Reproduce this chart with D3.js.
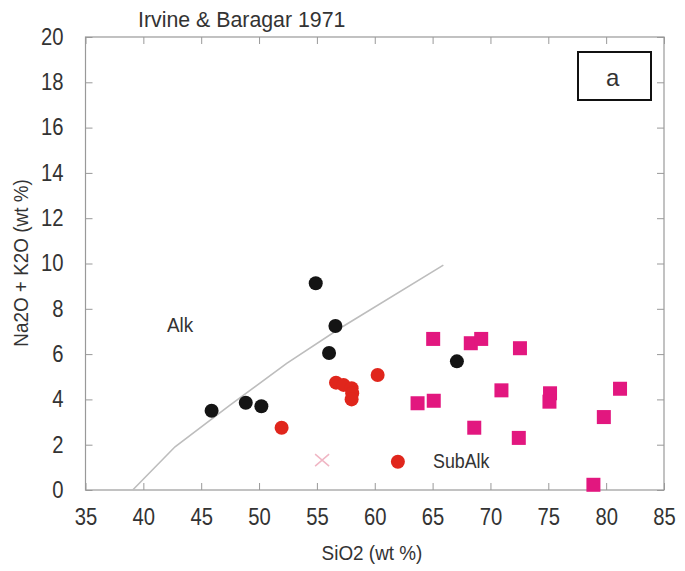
<!DOCTYPE html>
<html>
<head>
<meta charset="utf-8">
<script src="https://cdn.jsdelivr.net/npm/d3@7"></script>
<style>
    body { margin: 0; background: #fff; }
    svg { display: block; }
    text { font-family: 'Liberation Sans', Arial, sans-serif; fill: #333; }
</style>
</head>
<body>
<svg id="chart" width="685" height="571"></svg>
<script>
//----------DATA----------

var xTicks = [35, 40, 45, 50, 55, 60, 65, 70, 75, 80, 85];
var yTicks = [0, 2, 4, 6, 8, 10, 12, 14, 16, 18, 20];

// black dots
var blackSiO2 = [45.9, 48.85, 50.2, 54.9, 56.6, 56.05, 67.1];
var blackAlk = [3.5, 3.85, 3.7, 9.13, 7.24, 6.05, 5.68];

// red dots
var redSiO2 = [51.95, 56.65, 57.3, 58.0, 58.05, 58.0, 60.25, 62.0];
var redAlk = [2.75, 4.74, 4.64, 4.49, 4.27, 4.0, 5.08, 1.25];

// magenta squares
var pinkSiO2 = [65.05, 68.3, 69.2, 72.55, 63.7, 65.1, 70.95, 75.15, 75.1, 81.2, 79.8, 68.6, 72.45, 78.9];
var pinkAlk = [6.67, 6.48, 6.67, 6.26, 3.83, 3.94, 4.4, 4.27, 3.9, 4.47, 3.22, 2.75, 2.3, 0.23];

// pale cross
var crossSiO2 = [55.45];
var crossAlk = [1.32];

// Irvine & Baragar alkaline / subalkaline divide
var lineSiO2 = [39.08, 42.74, 47.49, 52.39, 57.0, 65.93];
var lineAlk = [0, 1.91, 3.75, 5.59, 7.14, 9.93];

//----------SETUP----------

var svg = d3.select('#chart');
var plotL = 85.5, plotR = 664, plotT = 37, plotB = 490;
var squeeze = 0.88; // the source digits are a bit narrow

var x = d3.scaleLinear().domain([35, 85]).range([plotL, plotR]);
var y = d3.scaleLinear().domain([0, 20]).range([plotB, plotT]);

function zip(a, b) {
    var out = [];
    for (var i = 0; i < a.length; i++) out.push([a[i], b[i]]);
    return out;
}

//----------AXES----------

var tick = 7;

svg.append('g')
    .attr('transform', 'translate(0,' + plotB + ')')
    .call(d3.axisBottom(x).tickValues(xTicks).tickSize(-tick).tickPadding(19));
svg.append('g')
    .attr('transform', 'translate(0,' + plotT + ')')
    .call(d3.axisTop(x).tickValues(xTicks).tickSize(-tick).tickFormat(''));
svg.append('g')
    .attr('transform', 'translate(' + plotL + ',0)')
    .call(d3.axisLeft(y).tickValues(yTicks).tickSize(-tick).tickPadding(22));
svg.append('g')
    .attr('transform', 'translate(' + plotR + ',0)')
    .call(d3.axisRight(y).tickValues(yTicks).tickSize(-tick).tickFormat(''));

svg.selectAll('.domain').remove();
svg.selectAll('.tick line').attr('stroke', '#999').attr('stroke-width', 1);
svg.selectAll('.tick text')
    .attr('font-size', 23)
    .attr('fill', '#333')
    .attr('font-family', "'Liberation Sans', Arial, sans-serif")
    .each(function() {
        var t = d3.select(this);
        var tx = +t.attr('x') || 0;
        t.attr('x', tx / squeeze).attr('transform', 'scale(' + squeeze + ',1)');
    });

// frame
svg.append('rect')
    .attr('x', plotL).attr('y', plotT)
    .attr('width', plotR - plotL).attr('height', plotB - plotT)
    .attr('fill', 'none').attr('stroke', '#999').attr('stroke-width', 1.2);

//----------DIVIDING LINE----------

svg.append('path')
    .datum(zip(lineSiO2, lineAlk))
    .attr('fill', 'none')
    .attr('stroke', '#bdbdbd')
    .attr('stroke-width', 1.6)
    .attr('d', d3.line().x(function(d) {return x(d[0]);}).y(function(d) {return y(d[1]);}));

//----------POINTS----------

svg.append('g').selectAll('rect')
    .data(zip(pinkSiO2, pinkAlk))
    .enter().append('rect')
    .attr('x', function(d) {return x(d[0]) - 7;})
    .attr('y', function(d) {return y(d[1]) - 7;})
    .attr('width', 14).attr('height', 14)
    .attr('fill', '#e2177f');

svg.append('g').selectAll('circle')
    .data(zip(blackSiO2, blackAlk))
    .enter().append('circle')
    .attr('cx', function(d) {return x(d[0]);})
    .attr('cy', function(d) {return y(d[1]);})
    .attr('r', 7)
    .attr('fill', '#141414');

svg.append('g').selectAll('circle')
    .data(zip(redSiO2, redAlk))
    .enter().append('circle')
    .attr('cx', function(d) {return x(d[0]);})
    .attr('cy', function(d) {return y(d[1]);})
    .attr('r', 7)
    .attr('fill', '#e0261c');

svg.append('g').selectAll('path')
    .data(zip(crossSiO2, crossAlk))
    .enter().append('path')
    .attr('transform', function(d) {return 'translate(' + x(d[0]) + ',' + y(d[1]) + ')';})
    .attr('d', 'M-7,-6L7,6M-7,6L7,-6')
    .attr('stroke', '#f0b6c4')
    .attr('stroke-width', 1.5)
    .attr('fill', 'none');

//----------LABELS----------

function label(txt, px, py, size, anchor, sx) {
    return svg.append('text')
        .attr('transform', 'translate(' + px + ',' + py + ') scale(' + sx + ',1)')
        .attr('text-anchor', anchor)
        .attr('font-size', size)
        .text(txt);
}

label('Irvine & Baragar 1971', 138, 27, 22, 'start', 0.97);
label('Alk', 167, 332, 21, 'start', 0.9);
label('SubAlk', 433, 468, 21, 'start', 0.85);
label('SiO2  (wt %)', 372, 560, 21, 'middle', 0.9);

svg.append('text')
    .attr('transform', 'translate(28,263) rotate(-90) scale(0.9,1)')
    .attr('text-anchor', 'middle')
    .attr('font-size', 21)
    .text('Na2O + K2O  (wt %)');

// panel tag
svg.append('rect')
    .attr('x', 578).attr('y', 52)
    .attr('width', 73).attr('height', 48)
    .attr('fill', '#fff').attr('stroke', '#111').attr('stroke-width', 2);
svg.append('text')
    .attr('x', 606).attr('y', 86)
    .attr('font-family', "'Liberation Serif', 'Times New Roman', serif")
    .attr('font-size', 24)
    .attr('fill', '#111')
    .text('a');
</script>
</body>
</html>
